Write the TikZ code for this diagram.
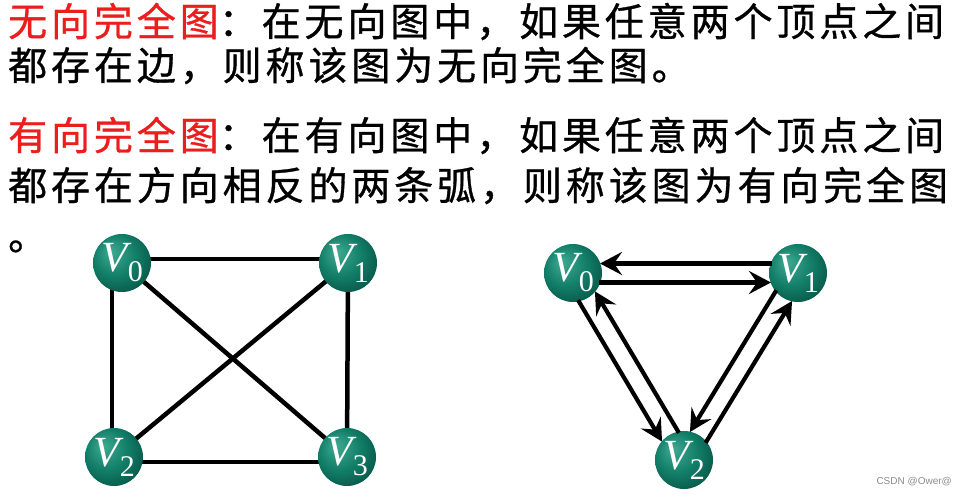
\documentclass[tikz,border=0pt]{standalone}
\usepackage{fontspec}
\usetikzlibrary{arrows.meta,calc,backgrounds}
\newfontfamily\cjk[LetterSpace=10,FakeBold=0.8]{Noto Sans CJK SC}
\newfontfamily\lbl{Liberation Serif}
\definecolor{vlight}{RGB}{64,170,146}
\definecolor{vmid}{RGB}{18,126,104}
\definecolor{vdark}{RGB}{6,82,68}
\definecolor{titlered}{RGB}{235,30,30}
\pgfdeclareradialshading{vball}{\pgfpoint{-10bp}{10bp}}{color(0bp)=(vlight); color(18bp)=(vmid); color(34bp)=(vdark); color(50bp)=(vdark)}
\newcommand{\vlab}[1]{{\lbl\fontsize{43}{43}\selectfont\itshape V\kern0.5pt\raisebox{-10pt}{\fontsize{30}{30}\selectfont\upshape #1}}}
\tikzset{
  vtx/.style={circle, minimum size=58pt, inner sep=0pt, shading=vball, text=white},
  txt/.style={anchor=base west, inner sep=0pt, font=\cjk\fontsize{39}{39}\selectfont},
  edge/.style={line width=4.5pt, black},
  arc/.style={line width=4.2pt, black, -{Stealth[length=22pt,width=23pt,inset=8pt]}, shorten <=26pt, shorten >=27pt},
}
\begin{document}
\begin{tikzpicture}[x=1pt,y=-1pt]
\useasboundingbox (0,0) rectangle (964,497);
% text
\node[txt] (l1) at (8,36) {\textcolor{titlered}{无向完全图}：在无向图中，如果任意两个顶点之间};
\node[txt] (l2) at (8,80) {都存在边，则称该图为无向完全图。};
\node[txt] (l3) at (8,150) {\textcolor{titlered}{有向完全图}：在有向图中，如果任意两个顶点之间};
\node[txt] (l4) at (8,200) {都存在方向相反的两条弧，则称该图为有向完全图};
\node[txt] (l5) at (8,250) {。};
% undirected complete graph
\node[vtx] (u0) at (122,263) {\vlab{0}};
\node[vtx] (u1) at (348,263) {\vlab{1}};
\node[vtx] (u2) at (114,457) {\vlab{2}};
\node[vtx] (u3) at (347,457) {\vlab{3}};
\path (u2.center) ++(-2,0) coordinate (e2a);
\begin{scope}[on background layer]
\fill[white] (0,0) rectangle (964,497);
\draw[edge] ($(u0.center)+(0,-4)$) -- ($(u1.center)+(0,-4)$);
\draw[edge] (e2a |- u0.center) -- (e2a);
\draw[edge] (u1.center) -- (u3.center);
\draw[edge] ($(u2.center)+(0,5)$) -- ($(u3.center)+(0,5)$);
\draw[edge] (u0.center) -- (u3.center);
\draw[edge] (u1.center) -- (u2.center);
\end{scope}
% directed complete graph
\node[vtx] (d0) at (573,273) {\vlab{0}};
\node[vtx] (d1) at (798,273) {\vlab{1}};
\node[vtx] (d2) at (684,460) {\vlab{2}};
\foreach \s/\t in {d0/d1,d1/d0,d0/d2,d2/d0,d1/d2,d2/d1}{
  \draw[arc] ($(\s.center)!9.5pt!-90:(\t.center)$) -- ($(\t.center)!9.5pt!90:(\s.center)$);
}
% watermark
\node[anchor=east, inner sep=0pt, text=black!45, font=\fontspec{Liberation Sans}\fontsize{10}{10}\selectfont] (wm) at (952,482) {CSDN @Ower@};
\end{tikzpicture}
\end{document}
